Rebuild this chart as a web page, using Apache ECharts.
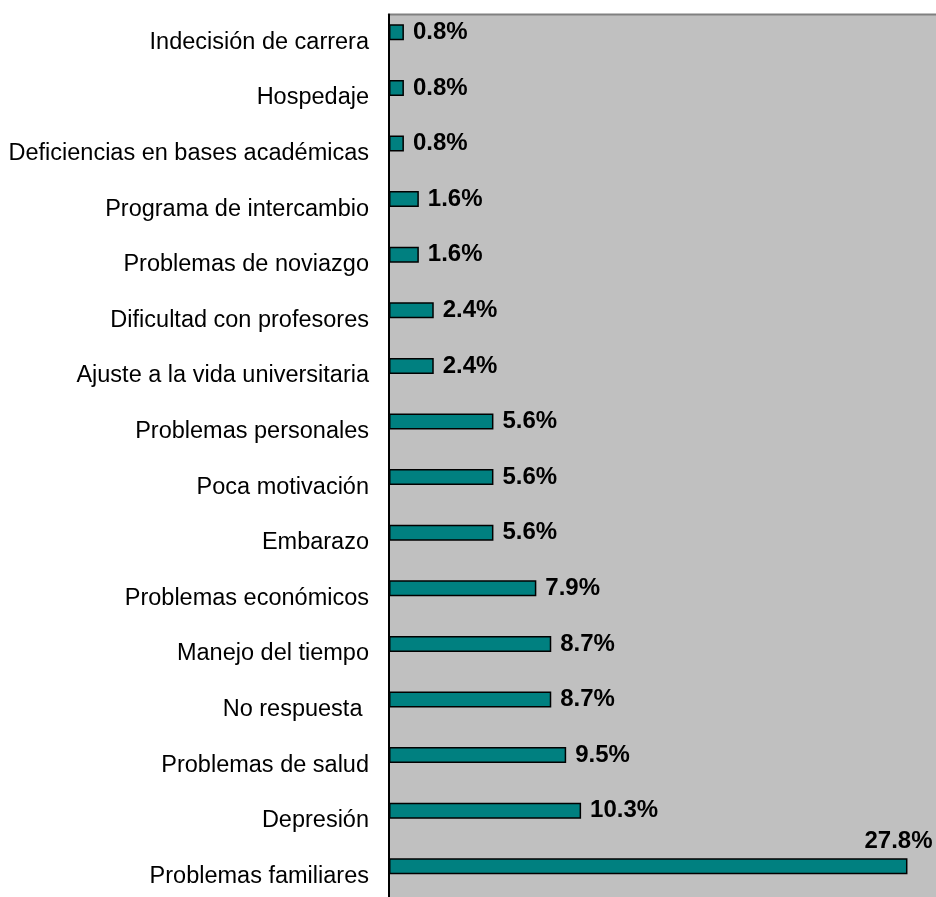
<!DOCTYPE html>
<html>
<head>
<meta charset="utf-8">
<script src="https://cdn.jsdelivr.net/npm/echarts@6/dist/echarts.min.js"></script>
<style>
  html, body { margin: 0; padding: 0; background: #ffffff; }
  #chart { width: 936px; height: 897px; }
</style>
</head>
<body>
<div id="chart"></div>
<script>
// Motivos de deserción, de arriba hacia abajo
const categories = [
  'Indecisión de carrera',
  'Hospedaje',
  'Deficiencias en bases académicas',
  'Programa de intercambio',
  'Problemas de noviazgo',
  'Dificultad con profesores',
  'Ajuste a la vida universitaria',
  'Problemas personales',
  'Poca motivación',
  'Embarazo',
  'Problemas económicos',
  'Manejo del tiempo',
  'No respuesta ',
  'Problemas de salud',
  'Depresión',
  'Problemas familiares'
];
// Porcentaje de estudiantes por motivo
const percentages = [0.8, 0.8, 0.8, 1.6, 1.6, 2.4, 2.4, 5.6, 5.6, 5.6, 7.9, 8.7, 8.7, 9.5, 10.3, 27.8];

const FONT = '"Liberation Sans", Arial, sans-serif';

const chart = echarts.init(document.getElementById('chart'), null, { renderer: 'canvas' });

const barData = percentages.map((v, i) => {
  const item = { value: v };
  // the longest bar carries its label above its right end
  if (i === percentages.length - 1) {
    item.label = { position: 'right', offset: [-52, -25] };
  }
  return item;
});

chart.setOption({
  animation: false,
  backgroundColor: '#ffffff',
  grid: {
    left: 389,
    top: 14.5,
    width: 559.5,
    height: 889.6,
    outerBoundsMode: 'none',
    containLabel: false,
    show: true,
    backgroundColor: '#c0c0c0',
    borderColor: '#808080',
    borderWidth: 2
  },
  xAxis: {
    type: 'value',
    min: 0,
    max: 30,
    show: false,
    splitLine: { show: false }
  },
  yAxis: {
    type: 'category',
    data: categories,
    inverse: true,
    axisLine: { show: true, lineStyle: { color: '#000000', width: 2 } },
    axisTick: { show: false },
    axisLabel: {
      margin: 20,
      padding: [4, 0, 0, 0],
      color: '#000000',
      fontFamily: FONT,
      fontSize: 23.5
    }
  },
  series: [
    {
      name: 'Porcentaje',
      type: 'bar',
      data: barData,
      barWidth: 16,
      barGap: '25%',
      itemStyle: { color: '#008080', borderColor: '#000000', borderWidth: 1.5 },
      label: {
        show: true,
        position: 'right',
        distance: 9,
        color: '#000000',
        fontFamily: FONT,
        fontWeight: 'bold',
        fontSize: 24,
        formatter: p => p.value.toFixed(1) + '%'
      }
    },
    {
      name: 'espacio',
      type: 'bar',
      data: [],
      barWidth: 16,
      silent: true
    }
  ]
});
</script>
</body>
</html>
